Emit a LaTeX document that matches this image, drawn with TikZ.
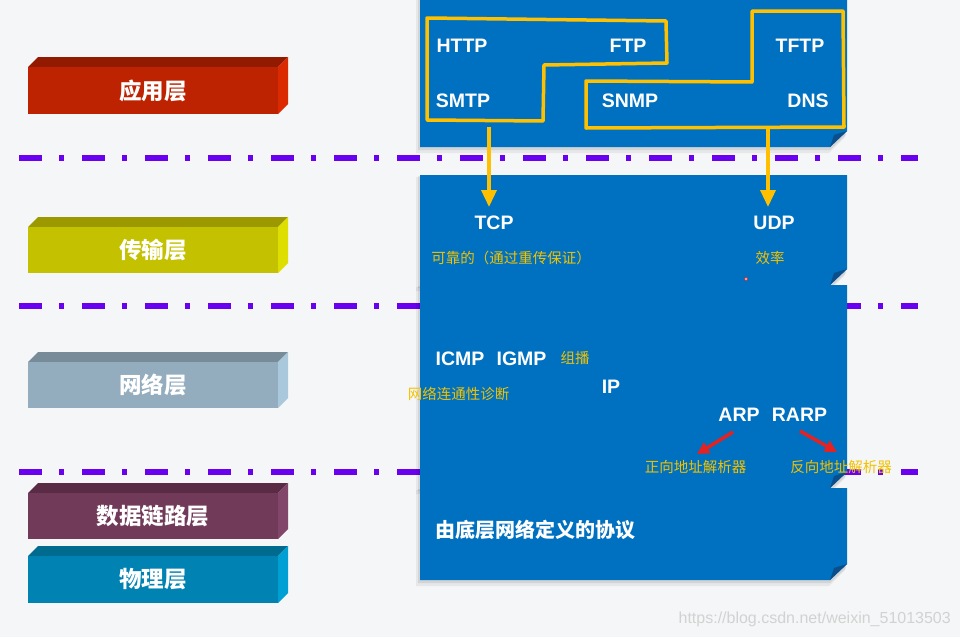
\documentclass[tikz,border=0pt]{standalone}
\usepackage{fontspec}
\setmainfont{Liberation Sans}
\newfontfamily\cjk{Noto Sans CJK SC}
\usetikzlibrary{arrows.meta}
\definecolor{bgc}{HTML}{F5F6F7}
\definecolor{boxblue}{HTML}{0070C0}
\definecolor{foldblue}{HTML}{0B4E8C}
\definecolor{olyellow}{HTML}{FFC000}
\definecolor{noteyellow}{HTML}{F2C200}
\definecolor{sepurple}{HTML}{6A00F0}
\definecolor{arrred}{HTML}{E52222}
\definecolor{wm}{HTML}{D2D2D2}
\definecolor{appF}{HTML}{BD2300}\definecolor{appT}{HTML}{921A00}\definecolor{appS}{HTML}{DB2900}
\definecolor{traF}{HTML}{C3C100}\definecolor{traT}{HTML}{9B9800}\definecolor{traS}{HTML}{DEDE00}
\definecolor{netF}{HTML}{93ADBE}\definecolor{netT}{HTML}{778B99}\definecolor{netS}{HTML}{AAC8DC}
\definecolor{dlF}{HTML}{703A58}\definecolor{dlT}{HTML}{5A2B45}\definecolor{dlS}{HTML}{82466A}
\definecolor{phF}{HTML}{0082B2}\definecolor{phT}{HTML}{006B8F}\definecolor{phS}{HTML}{009FD4}
\tikzset{
  proto/.style={text=white, font=\fontsize{19.5}{20}\selectfont\bfseries, inner sep=0pt},
  note/.style={text=noteyellow, font=\cjk\fontsize{14.5}{15}\selectfont, inner sep=0pt},
  bignote/.style={text=white, font=\cjk\bfseries\fontsize{20}{21}\selectfont, inner sep=0pt},
  layerlbl/.style={text=white, font=\cjk\bfseries\fontsize{22.5}{23}\selectfont, inner sep=0pt},
  outline/.style={draw=olyellow, line width=3.5pt, line join=round, line cap=round},
  sepline/.style={draw=sepurple, line width=5.5pt, dash pattern=on 23pt off 17pt on 5pt off 18pt},
  yarrow/.style={draw=olyellow, line width=3.5pt, -{Triangle[width=15pt,length=17pt]}},
  rarrow/.style={draw=arrred, line width=3.5pt, -{Triangle[width=12pt,length=12pt]}},
}
% 3D bar: #1 front top y, #2 height, #3 front, #4 top, #5 side, #6 name, #7 text
\newcommand\layerbar[7]{%
  \fill[#4] (28,#1) -- (38,#1-10) -- (288,#1-10) -- (278,#1) -- cycle;
  \fill[#5] (278,#1) -- (288,#1-10) -- (288,#1+#2-10) -- (278,#1+#2) -- cycle;
  \fill[#3] (28,#1) rectangle (278,#1+#2);
  \node[layerlbl] (#6) at (153,#1+#2/2) {#7};
}
% blue panel: #1 top, #2 bottom
\newcommand\bluepanel[2]{%
  \fill[black,opacity=0.06] (416,#1+2) -- (845,#1+2) -- (845,#2-10) -- (829,#2+6) -- (416,#2+6) -- cycle;
  \fill[black,opacity=0.08] (418,#1+1) -- (846,#1+1) -- (846,#2-12) -- (830,#2+3) -- (418,#2+3) -- cycle;
  \fill[boxblue] (420,#1) -- (847,#1) -- (847,#2-16) -- (830,#2) -- (420,#2) -- cycle;
  \fill[foldblue] (847,#2-16) -- (830,#2) -- (834,#2-12) -- cycle;
}
\begin{document}
\begin{tikzpicture}[x=1pt,y=-1pt]
\useasboundingbox (0,0) rectangle (960,637);
\clip (0,0) rectangle (960,637);
\fill[bgc] (0,0) rectangle (960,637);

% separators
\draw[sepline] (19,158) -- (918,158);
\draw[sepline] (19,306) -- (918,306);
\draw[sepline] (19,472) -- (918,472);

% left layer bars
\layerbar{67}{47}{appF}{appT}{appS}{lapp}{应用层}
\layerbar{227}{46}{traF}{traT}{traS}{ltra}{传输层}
\layerbar{362}{46}{netF}{netT}{netS}{lnet}{网络层}
\layerbar{493}{46}{dlF}{dlT}{dlS}{ldl}{数据链路层}
\layerbar{556}{47}{phF}{phT}{phS}{lph}{物理层}

% blue panels
\bluepanel{-10}{147}
\bluepanel{175}{285}
\bluepanel{285}{488}
\bluepanel{488}{580}

% application layer
\draw[outline] (427,18) -- (666,21) -- (667,63) -- (544,65) -- (543,121) -- (427,120) -- cycle;
\draw[outline] (752,11) -- (843,11) -- (844,127) -- (586,128) -- (586,81) -- (752,82) -- cycle;
\node[proto] (http) at (462,46) {HTTP};
\node[proto] (ftp) at (628,46) {FTP};
\node[proto] (tftp) at (800,46) {TFTP};
\node[proto] (smtp) at (463,101) {SMTP};
\node[proto] (snmp) at (630,101) {SNMP};
\node[proto] (dns) at (808,101) {DNS};

% transport layer
\node[proto] (tcp) at (494,223) {TCP};
\node[proto] (udp) at (774,223) {UDP};
\node[note] (tcpnote) at (511,258) {可靠的（通过重传保证）};
\node[note] (udpnote) at (770,258) {效率};
\node[circle, draw=arrred, fill=pink, line width=0.6pt, inner sep=0pt, minimum size=3.5pt] (dot) at (746,279) {};

\coordinate (g1) at (489,127);
\coordinate (t1) at (489,207);
\coordinate (g2) at (768,129);
\coordinate (t2) at (768,207);
\draw[yarrow] (g1) -- (t1);
\draw[yarrow] (g2) -- (t2);

% network layer
\node[proto] (icmp) at (460,359) {ICMP};
\node[proto] (igmp) at (521.5,359) {IGMP};
\node[note] (igmpnote) at (575,358) {组播};
\node[proto] (ip) at (611,387) {IP};
\node[note] (icmpnote) at (458.5,394) {网络连通性诊断};
\node[proto] (arp) at (739,415) {ARP};
\node[proto] (rarp) at (799.5,415) {RARP};
\node[note] (arpnote) at (695.5,467) {正向地址解析器};
\node[note] (rarpnote) at (841,467) {反向地址解析器};
\coordinate (r1s) at (733,432);
\coordinate (r1e) at (697,454);
\coordinate (r2s) at (800,431);
\coordinate (r2e) at (837,452);
\draw[rarrow] (r1s) -- (r1e);
\draw[rarrow] (r2s) -- (r2e);

% lower layers
\node[bignote] (low) at (535,530) {由底层网络定义的协议};

% watermark
\node[text=wm, font=\fontsize{16}{16}\selectfont, inner sep=0pt, anchor=east] (wmark) at (951,619) {https://blog.csdn.net/weixin\_51013503};
\end{tikzpicture}
\end{document}
